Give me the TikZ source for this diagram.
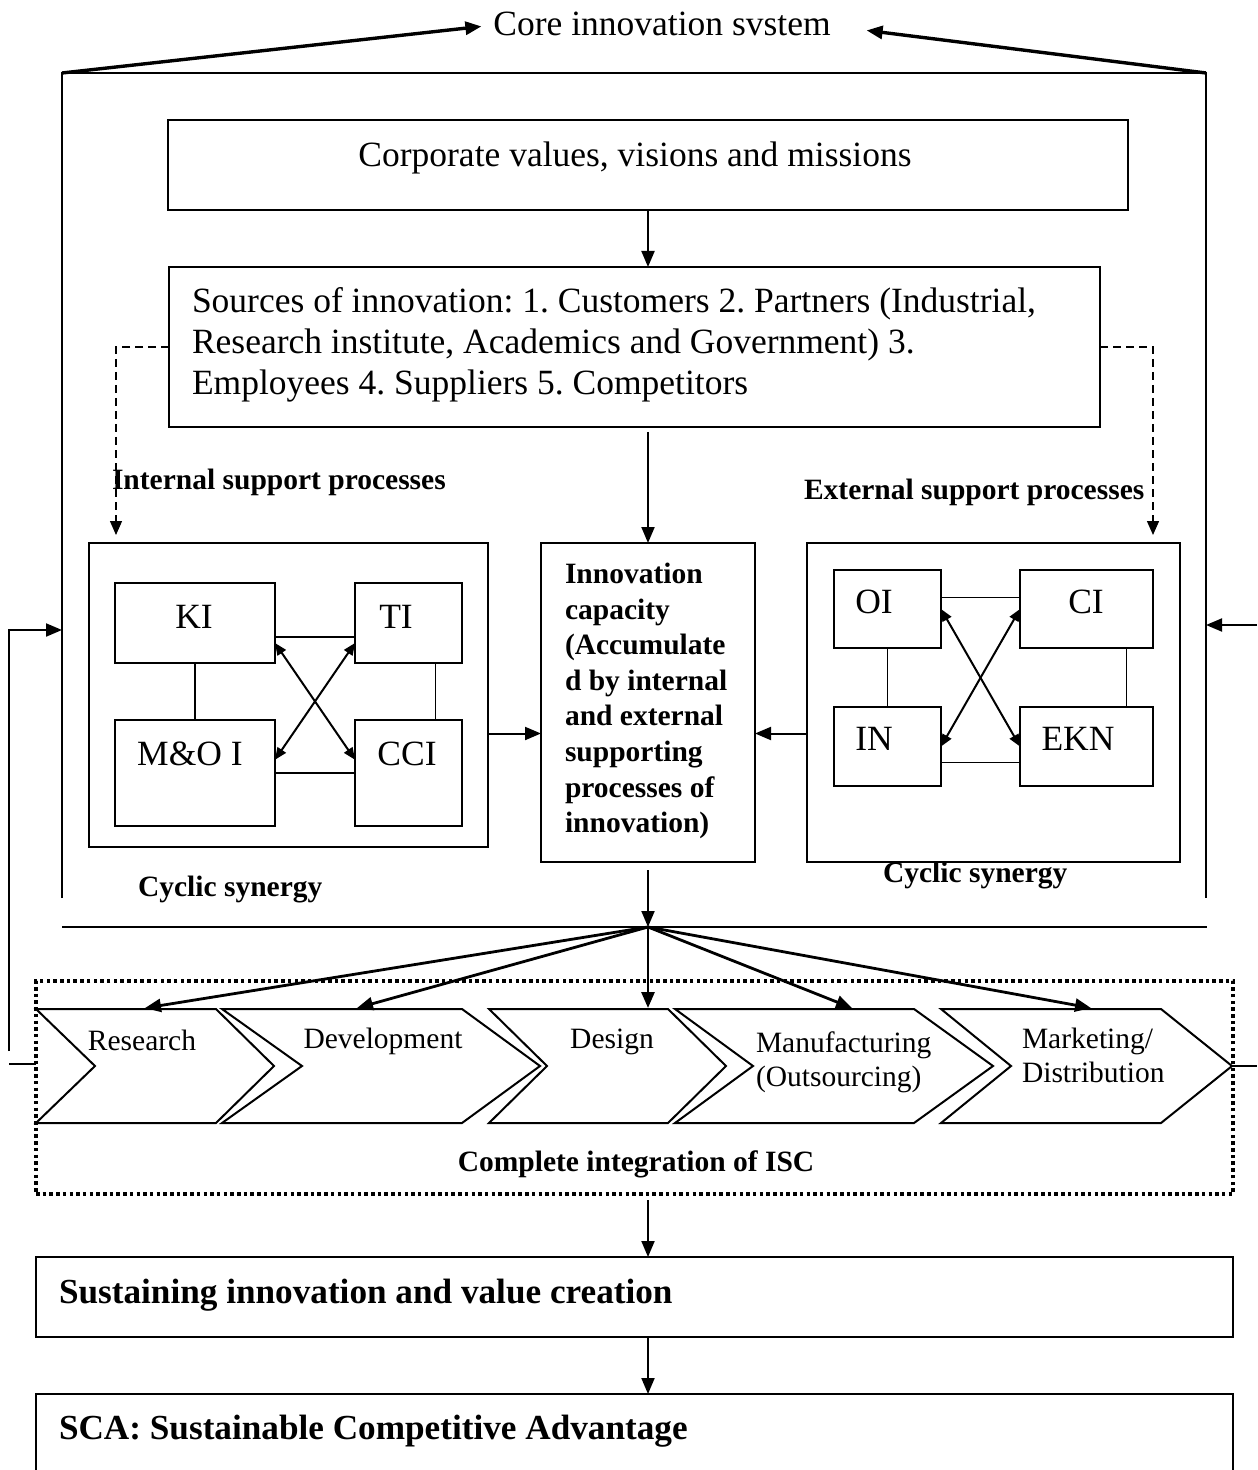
\documentclass[tikz,border=0pt]{standalone}
\usepackage{fontspec}
\setmainfont{Liberation Serif}
\usetikzlibrary{arrows.meta,calc}
\frenchspacing

\begin{document}
\begin{tikzpicture}[x=0.5pt,y=-0.5pt,
  every node/.style={inner sep=0pt,outer sep=0pt},
  boxn/.style={draw,line width=1pt,anchor=north west},
  big/.style={font=\fontsize{17.75pt}{20.5pt}\selectfont},
  bigb/.style={font=\fontsize{17.6pt}{21pt}\selectfont\bfseries},
  small/.style={font=\fontsize{14.75pt}{16.8pt}\selectfont},
  smallb/.style={font=\fontsize{14.75pt}{17.8pt}\selectfont\bfseries},
  arr/.style={line width=1pt,-{Triangle[length=8pt,width=6.5pt]}},
  thickarr/.style={line width=1.7pt,-{Triangle[length=8pt,width=6.5pt]}},
  duo/.style={line width=1pt,{Triangle[length=6pt,width=5pt]}-{Triangle[length=6pt,width=5pt]}},
  thinline/.style={line width=0.7pt},
  framel/.style={line width=1pt},
  dasharr/.style={line width=0.7pt,dash pattern=on 4pt off 2.5pt,-{Triangle[length=7pt,width=6pt]}},
  dotframe/.style={draw,line width=1.75pt,dash pattern=on 1.75pt off 1.6pt,anchor=north west},
  chev/.style={draw,line width=1pt,line join=miter},
]
\useasboundingbox (0,0) rectangle (1257,1470);
\fill[white] (0,0) rectangle (1257,1470);
\clip (0,0) rectangle (1257,1470);

% ---------- core innovation system frame ----------
\node[big,anchor=base] (title) at (662,36) {Core innovation svstem};
\coordinate (fTL) at (62,73);
\coordinate (fTR) at (1206,73);
\coordinate (fBL) at (62,898);
\coordinate (fBR) at (1206,898);
\draw[framel] (fBL) -- (fTL) -- (fTR) -- (fBR);
\draw[thickarr] (fTL) -- ([xshift=-6pt,yshift=-1pt]title.west);
\draw[thickarr] (fTR) -- ([xshift=18pt,yshift=-3pt]title.east);

% ---------- values and sources ----------
\node[boxn,minimum width=480pt,minimum height=45pt] (corp) at (168,120) {};
\node[big,anchor=base] (corpt) at (635,167) {Corporate values, visions and missions};

\node[boxn,minimum width=465.5pt,minimum height=80pt] (src) at (169,267) {};
\node[big,anchor=north west,align=left] (srct) at (192,288)
  {Sources of innovation: 1. Customers 2. Partners (Industrial,\\
   Research institute, Academics and Government) 3.\\
   Employees 4. Suppliers 5. Competitors};

% ---------- innovation capacity ----------
\node[boxn,minimum width=107pt,minimum height=159.5pt] (innov) at (541,543) {};
\node[smallb,anchor=north west,align=left] (innovt) at (565,563)
  {Innovation\\capacity\\(Accumulate\\d by internal\\and external\\supporting\\processes of\\innovation)};

\draw[arr] (corp.south) -- (src.north -| corp.south);
\draw[arr] ([yshift=-2.5pt]src.south -| innov.north) -- (innov.north);

% ---------- internal support processes ----------
\node[smallb,anchor=base west] (intl) at (112,489) {Internal support processes};
\node[boxn,minimum width=199.5pt,minimum height=152pt] (inb) at (89,543) {};
\node[boxn,minimum width=80pt,minimum height=40pt] (KI) at (115,583) {};
\node[boxn,minimum width=53.5pt,minimum height=40pt] (TI) at (355,583) {};
\node[boxn,minimum width=80pt,minimum height=53pt] (MO) at (115,720) {};
\node[boxn,minimum width=53.5pt,minimum height=53pt] (CCI) at (355,720) {};
\node[big,anchor=base] (KIt) at (194,628) {KI};
\node[big,anchor=base] (TIt) at (396,628) {TI};
\node[big,anchor=base] (MOt) at (190,765) {M\&O I};
\node[big,anchor=base] (CCIt) at (407,765) {CCI};
\draw[thinline] (KI.south) -- (MO.north);
\draw[thinline] ($(TI.south east)!0.5!(TI.south)$) -- ($(CCI.north east)!0.5!(CCI.north)$);
\draw[thinline] ($(KI.east)!0.35!(KI.south east)$) -- ($(TI.west)!0.35!(TI.south west)$);
\draw[thinline] (MO.east) -- (CCI.west -| MO.east) -- (CCI.west);
\draw[duo] ($(KI.east)!0.5!(KI.south east)$) -- ($(CCI.west)!0.25!(CCI.north west)$);
\draw[duo] ($(TI.west)!0.5!(TI.south west)$) -- ($(MO.east)!0.25!(MO.north east)$);
\node[smallb,anchor=base west] (cycl) at (138,896) {Cyclic synergy};

% ---------- external support processes ----------
\node[smallb,anchor=base west] (extl) at (804,499) {External support processes};
\node[boxn,minimum width=186.5pt,minimum height=159.5pt] (exb) at (807,543) {};
\node[boxn,minimum width=53.5pt,minimum height=39pt] (OI) at (834,570) {};
\node[boxn,minimum width=66.5pt,minimum height=39pt] (CI) at (1020,570) {};
\node[boxn,minimum width=53.5pt,minimum height=39.5pt] (IN) at (834,707) {};
\node[boxn,minimum width=66.5pt,minimum height=39.5pt] (EKN) at (1020,707) {};
\node[big,anchor=base] (OIt) at (874,613) {OI};
\node[big,anchor=base] (CIt) at (1086,613) {CI};
\node[big,anchor=base] (INt) at (874,750) {IN};
\node[big,anchor=base] (EKNt) at (1078,750) {EKN};
\draw[thinline] (OI.south) -- (IN.north);
\draw[thinline] ($(CI.south east)!0.4!(CI.south)$) -- ($(EKN.north east)!0.4!(EKN.north)$);
\draw[thinline] ($(OI.east)!0.3!(OI.north east)$) -- ($(CI.west)!0.3!(CI.north west)$);
\draw[thinline] ($(IN.east)!0.4!(IN.south east)$) -- ($(EKN.west)!0.4!(EKN.south west)$);
\draw[duo] (OI.east) -- (EKN.west);
\draw[duo] (CI.west) -- (IN.east);
\node[smallb,anchor=base west] (cycr) at (883,882) {Cyclic synergy};

% ---------- dashed support links ----------
\coordinate (inTip) at (116,535);
\coordinate (exTip) at (1153,535);
\draw[dasharr] (src.west) -| (inTip);
\draw[dasharr] (src.east) -| (exTip);

% ---------- into innovation capacity ----------
\draw[arr] ([yshift=-15.5pt]innov.west -| inb.east) -- ([yshift=-15.5pt]innov.west);
\draw[arr] ([yshift=-15.5pt]innov.east -| exb.west) -- ([yshift=-15.5pt]innov.east);

% ---------- fan out to the chain ----------
\coordinate (fan) at (648,927);
\coordinate (hl) at (62,927);
\coordinate (hr) at (1207,927);
\draw[framel] (hl) -- (hr);
\draw[arr] ([yshift=-4pt]innov.south) -- (fan);

\node[dotframe,minimum width=598.5pt,minimum height=106.5pt] (isc) at (36,981) {};

% chevrons: left x, notch x, top-right x, tip x
\draw[chev] (36,1009) -- (216,1009) -- (274,1066) -- (216,1123) -- (36,1123) -- (95,1066) -- cycle;
\draw[chev] (222,1009) -- (462,1009) -- (540,1066) -- (462,1123) -- (222,1123) -- (302,1066) -- cycle;
\draw[chev] (489,1009) -- (668,1009) -- (726,1066) -- (668,1123) -- (489,1123) -- (547,1066) -- cycle;
\draw[chev] (675,1009) -- (914,1009) -- (993,1066) -- (914,1123) -- (675,1123) -- (753,1066) -- cycle;
\draw[chev] (941,1009) -- (1161,1009) -- (1232,1066) -- (1161,1123) -- (941,1123) -- (1011,1066) -- cycle;
\coordinate (resTop) at (145,1008);
\coordinate (devTop) at (357,1008);
\coordinate (desTop) at (648,1008);
\coordinate (manTop) at (852,1008);
\coordinate (mktTop) at (1091,1008);
\coordinate (mktTip) at (1232,1066);

\node[small,anchor=base] (resl) at (142,1050) {Research};
\node[small,anchor=base] (devl) at (383,1048) {Development};
\node[small,anchor=base] (desl) at (612,1048) {Design};
\node[small,anchor=north west,align=left] (manl) at (756,1032) {Manufacturing\\(Outsourcing)};
\node[small,anchor=north west,align=left] (mktl) at (1022,1028) {Marketing/\\Distribution};
\node[smallb,anchor=base] (iscl) at (636,1171) {Complete integration of ISC};

\draw[arr,line width=1.4pt] (fan) -- (resTop);
\draw[arr,line width=1.4pt] (fan) -- (devTop);
\draw[arr,line width=1.4pt] (fan) -- (desTop);
\draw[arr,line width=1.4pt] (fan) -- (manTop);
\draw[arr,line width=1.4pt] (fan) -- (mktTop);

% ---------- feedback loops ----------
\coordinate (lb) at (9,1051);
\coordinate (lt) at (9,630);
\coordinate (lin) at (62,630);
\coordinate (ls1) at (9,1064);
\coordinate (ls2) at (36,1064);
\draw[arr] (lb) -- (lt) -- (lin);
\draw[framel] (ls1) -- (ls2);
\coordinate (rout) at (1257,1066);
\coordinate (rback) at (1257,625);
\coordinate (rin) at (1206,625);
\draw[framel] (mktTip) -- (rout);
\draw[arr] (rback) -- (rin);

% ---------- outcomes ----------
\node[boxn,minimum width=598.5pt,minimum height=40pt] (sust) at (36,1257) {};
\node[bigb,anchor=base west] (sustt) at (59,1303) {Sustaining innovation and value creation};
\node[boxn,minimum width=598.5pt,minimum height=50pt] (sca) at (36,1394) {};
\node[bigb,anchor=base west] (scat) at (59,1439) {SCA: Sustainable Competitive Advantage};

\draw[arr] ([yshift=-3pt]isc.south -| fan) -- (sust.north -| fan);
\draw[arr] (sust.south -| fan) -- (sca.north -| fan);
\end{tikzpicture}
\end{document}
